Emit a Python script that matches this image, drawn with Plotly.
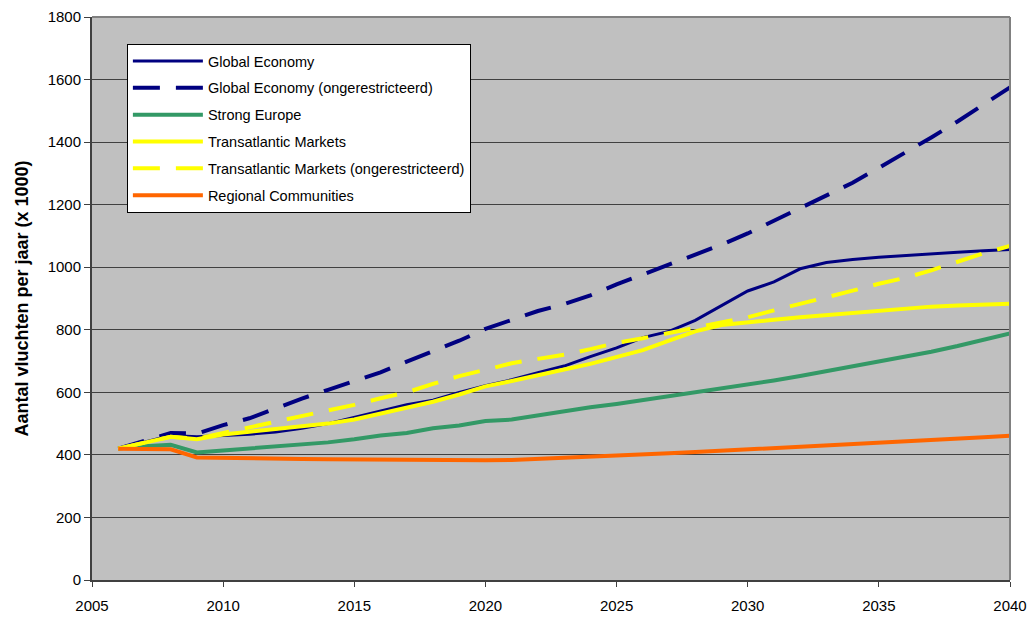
import plotly.graph_objects as go

years = list(range(2006, 2041))

global_economy = [420, 442, 462, 458, 462, 466, 473, 485, 500, 520, 540, 560, 575, 600, 621,
                  640, 663, 684, 714, 742, 775, 795, 830, 877, 924, 953, 995, 1015, 1025, 1032,
                  1038, 1043, 1048, 1053, 1057]
global_economy_unr = [420, 445, 470, 468, 495, 517, 550, 580, 608, 635, 664, 698, 730, 765, 803,
                      830, 860, 882, 910, 945, 977, 1010, 1040, 1072, 1108, 1148, 1188, 1228, 1270, 1318,
                      1366, 1415, 1466, 1520, 1575]
strong_europe = [420, 428, 432, 408, 414, 420, 426, 432, 440, 450, 462, 470, 485, 494, 508,
                 513, 527, 540, 552, 563, 575, 588, 600, 612, 625, 638, 652, 667, 682, 698,
                 714, 730, 748, 768, 788]
transatlantic = [420, 440, 458, 450, 465, 474, 482, 490, 500, 513, 532, 553, 570, 593, 619,
                 636, 656, 673, 691, 712, 735, 765, 795, 815, 822, 832, 840, 847, 855, 862,
                 868, 874, 878, 881, 883]
transatlantic_unr = [420, 440, 458, 452, 470, 486, 505, 522, 541, 560, 581, 600, 627, 652, 672,
                     693, 707, 720, 738, 758, 773, 790, 808, 822, 840, 862, 882, 903, 925, 947,
                     966, 990, 1018, 1045, 1068]
regional = [420, 419, 418, 392, 390, 389, 388, 387, 386, 385, 385, 384, 384, 383, 383,
            384, 387, 390, 393, 397, 401, 405, 409, 413, 417, 421, 425, 430, 434, 439,
            443, 448, 451, 456, 461]

series = [
    ("Global Economy", global_economy, "#000080", 3, "solid"),
    ("Global Economy (ongerestricteerd)", global_economy_unr, "#000080", 4, "27px,16px"),
    ("Strong Europe", strong_europe, "#339966", 4, "solid"),
    ("Transatlantic Markets", transatlantic, "#FFFF00", 4, "solid"),
    ("Transatlantic Markets (ongerestricteerd)", transatlantic_unr, "#FFFF00", 4, "27px,16px"),
    ("Regional Communities", regional, "#FF6600", 4, "solid"),
]

fig = go.Figure()
for i, (name, vals, color, w, dash) in enumerate(series):
    fig.add_trace(go.Scatter(
        x=years, y=vals, name=name, mode="lines",
        line=dict(color=color, width=w, dash=dash),
        legendgroup=f"g{i}",
    ))

# top/right frame of the plot area
fig.add_shape(type="line", xref="paper", yref="paper", x0=0, x1=1, y0=1, y1=1,
              line=dict(color="#808080", width=2), layer="above")
fig.add_shape(type="line", xref="paper", yref="paper", x0=1, x1=1, y0=0, y1=1,
              line=dict(color="#808080", width=2), layer="above")

fig.update_layout(
    width=1032, height=617,
    margin=dict(l=92, r=22, t=17, b=37),
    paper_bgcolor="white",
    plot_bgcolor="#C0C0C0",
    font=dict(family="Liberation Sans, Arial, sans-serif", size=15, color="black"),
    showlegend=True,
    legend=dict(
        x=0.038, y=0.952, xanchor="left", yanchor="top",
        bgcolor="white", bordercolor="black", borderwidth=1,
        font=dict(size=14.5, color="black"),
        tracegroupgap=5,
        traceorder="grouped",
        itemwidth=70,
    ),
    xaxis=dict(
        range=[2005, 2040], tick0=2005, dtick=5,
        showgrid=False, zeroline=False, automargin=False,
        showline=True, linecolor="#404040", linewidth=2,
        ticks="outside", ticklen=5, tickcolor="#404040",
        ticklabelstandoff=6,
        tickfont=dict(size=15),
    ),
    yaxis=dict(
        range=[0, 1800], tick0=0, dtick=200,
        showgrid=True, gridcolor="#404040", gridwidth=1,
        zeroline=False, automargin=False,
        showline=True, linecolor="#404040", linewidth=2,
        ticks="outside", ticklen=6, tickcolor="#404040",
        tickfont=dict(size=15),
        title=dict(text="<b>Aantal vluchten per jaar (x 1000)</b>", font=dict(size=18), standoff=14),
    ),
)

fig.write_html("out.html")
